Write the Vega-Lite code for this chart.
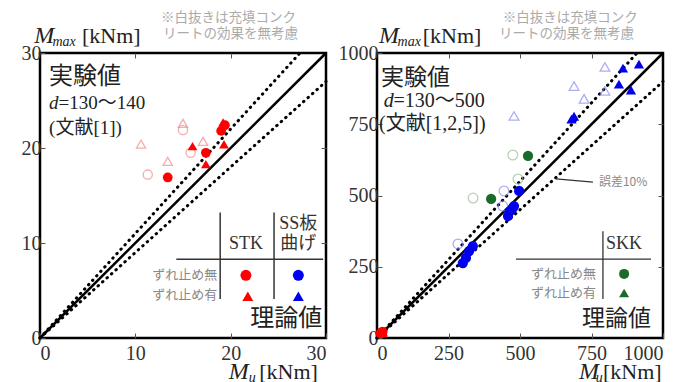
{
  "$schema": "https://vega.github.io/schema/vega-lite/v6.json",
  "background": "white",
  "padding": {"left": 19, "top": 9, "right": 0, "bottom": 0},
  "spacing": 51,
  "bounds": "flush",
  "config": {
    "view": {"stroke": "black", "strokeWidth": 2.5},
    "axis": {"labelFont": "Liberation Serif", "labelFontSize": 20, "labelColor": "#333", "domain": false, "grid": false, "tickColor": "#555", "tickWidth": 1, "title": null, "format": "d"}
  },
  "datasets": {
    "stk": [
      {"x": 13.4, "y": 16.9, "s": "STK", "r": "無", "o": 0},
      {"x": 17.4, "y": 19.5, "s": "STK", "r": "無", "o": 0},
      {"x": 19.0, "y": 21.8, "s": "STK", "r": "無", "o": 0},
      {"x": 19.4, "y": 22.4, "s": "STK", "r": "無", "o": 0},
      {"x": 16.0, "y": 20.2, "s": "STK", "r": "有", "o": 0},
      {"x": 17.4, "y": 18.3, "s": "STK", "r": "有", "o": 0},
      {"x": 19.3, "y": 20.4, "s": "STK", "r": "有", "o": 0},
      {"x": 19.2, "y": 22.7, "s": "STK", "r": "有", "o": 0},
      {"x": 10.6, "y": 20.4, "s": "STK", "r": "有", "o": 1},
      {"x": 11.3, "y": 17.2, "s": "STK", "r": "無", "o": 1},
      {"x": 13.4, "y": 18.6, "s": "STK", "r": "有", "o": 1},
      {"x": 15.0, "y": 22.6, "s": "STK", "r": "有", "o": 1},
      {"x": 15.0, "y": 21.9, "s": "STK", "r": "無", "o": 1},
      {"x": 15.8, "y": 19.5, "s": "STK", "r": "無", "o": 1},
      {"x": 17.1, "y": 20.7, "s": "STK", "r": "有", "o": 1}
    ],
    "big": [
      {"x": 300, "y": 263, "s": "SS", "r": "無", "o": 0},
      {"x": 311, "y": 281, "s": "SS", "r": "無", "o": 0},
      {"x": 322, "y": 305, "s": "SS", "r": "無", "o": 0},
      {"x": 335, "y": 322, "s": "SS", "r": "無", "o": 0},
      {"x": 458, "y": 428, "s": "SS", "r": "無", "o": 0},
      {"x": 465, "y": 445, "s": "SS", "r": "無", "o": 0},
      {"x": 475, "y": 456, "s": "SS", "r": "無", "o": 0},
      {"x": 479, "y": 463, "s": "SS", "r": "無", "o": 0},
      {"x": 497, "y": 516, "s": "SS", "r": "無", "o": 0},
      {"x": 283, "y": 330, "s": "SS", "r": "無", "o": 1},
      {"x": 444, "y": 516, "s": "SS", "r": "無", "o": 1},
      {"x": 440, "y": 463, "s": "SS", "r": "無", "o": 1},
      {"x": 680, "y": 768, "s": "SS", "r": "有", "o": 0},
      {"x": 689, "y": 778, "s": "SS", "r": "有", "o": 0},
      {"x": 846, "y": 891, "s": "SS", "r": "有", "o": 0},
      {"x": 888, "y": 870, "s": "SS", "r": "有", "o": 0},
      {"x": 860, "y": 947, "s": "SS", "r": "有", "o": 0},
      {"x": 916, "y": 961, "s": "SS", "r": "有", "o": 0},
      {"x": 479, "y": 779, "s": "SS", "r": "有", "o": 1},
      {"x": 689, "y": 884, "s": "SS", "r": "有", "o": 1},
      {"x": 724, "y": 839, "s": "SS", "r": "有", "o": 1},
      {"x": 797, "y": 867, "s": "SS", "r": "有", "o": 1},
      {"x": 797, "y": 951, "s": "SS", "r": "有", "o": 1},
      {"x": 399, "y": 488, "s": "SKK", "r": "無", "o": 0},
      {"x": 528, "y": 639, "s": "SKK", "r": "無", "o": 0},
      {"x": 336, "y": 491, "s": "SKK", "r": "無", "o": 1},
      {"x": 475, "y": 642, "s": "SKK", "r": "無", "o": 1},
      {"x": 493, "y": 558, "s": "SKK", "r": "無", "o": 1},
      {"x": 13.4, "y": 16.9, "s": "STK", "r": "無", "o": 0},
      {"x": 17.4, "y": 19.5, "s": "STK", "r": "無", "o": 0},
      {"x": 19.0, "y": 21.8, "s": "STK", "r": "無", "o": 0},
      {"x": 16.0, "y": 20.2, "s": "STK", "r": "有", "o": 0},
      {"x": 17.4, "y": 18.3, "s": "STK", "r": "有", "o": 0},
      {"x": 19.3, "y": 20.4, "s": "STK", "r": "有", "o": 0},
      {"x": 19.2, "y": 22.7, "s": "STK", "r": "有", "o": 0}
    ]
  },
  "hconcat": [
    {
      "width": 286, "height": 285,
      "encoding": {
        "x": {"field": "x", "type": "quantitative", "scale": {"domain": [0, 30], "nice": false}, "axis": null},
        "y": {"field": "y", "type": "quantitative", "scale": {"domain": [0, 30], "nice": false}, "axis": null}
      },
      "layer": [
        {
          "data": {"values": [{"x": 0, "y": 0}, {"x": 30, "y": 30}]},
          "mark": {"type": "line", "color": "black", "strokeWidth": 2.5},
          "encoding": {
            "x": {"field": "x", "type": "quantitative", "scale": {"domain": [0, 30], "nice": false}, "axis": {"orient": "bottom", "values": [0, 10, 20, 30], "tickSize": -5, "labelPadding": 10}},
            "y": {"field": "y", "type": "quantitative", "scale": {"domain": [0, 30], "nice": false}, "axis": {"orient": "left", "values": [0, 10, 20, 30], "tickSize": -5, "labelPadding": 4}}
          }
        },
        {
          "data": {"values": [{"x": 0, "y": 0, "k": "a"}, {"x": 27.27, "y": 30, "k": "a"}, {"x": 0, "y": 0, "k": "b"}, {"x": 30, "y": 27, "k": "b"}]},
          "mark": {"type": "line", "color": "black", "strokeWidth": 3, "strokeDash": [0.5, 5.5], "strokeCap": "round"},
          "encoding": {
            "detail": {"field": "k"},
            "x": {"field": "x", "type": "quantitative", "scale": {"domain": [0, 30], "nice": false}, "axis": {"orient": "top", "values": [10, 20], "labels": false, "tickSize": -5}},
            "y": {"field": "y", "type": "quantitative", "scale": {"domain": [0, 30], "nice": false}, "axis": {"orient": "right", "values": [10, 20], "labels": false, "tickSize": -5}}
          }
        },
        {
          "data": {"name": "stk"},
          "transform": [{"filter": "datum.o == 1"}],
          "mark": {"type": "point", "filled": false, "size": 85, "strokeWidth": 1.3},
          "encoding": {
            "stroke": {"field": "s", "type": "nominal", "scale": {"domain": ["STK", "SS", "SKK"], "range": ["#f08a8a", "#8c8cf0", "#9cbf9c"]}, "legend": null},
            "shape": {"field": "r", "type": "nominal", "scale": {"domain": ["無", "有"], "range": ["circle", "triangle-up"]}, "legend": null}
          }
        },
        {
          "data": {"name": "stk"},
          "transform": [{"filter": "datum.o == 0"}],
          "mark": {"type": "point", "filled": true, "size": 95, "opacity": 1},
          "encoding": {
            "color": {"field": "s", "type": "nominal", "scale": {"domain": ["STK", "SS", "SKK"], "range": ["#ff0000", "#0000ee", "#1a6b2a"]}, "legend": null},
            "shape": {"field": "r", "type": "nominal", "scale": {"domain": ["無", "有"], "range": ["circle", "triangle-up"]}, "legend": null}
          }
        },
        {
          "data": {"values": [{"x": 21.6, "y": 6.6, "s": "STK", "r": "無"}, {"x": 21.8, "y": 4.4, "s": "STK", "r": "有"}, {"x": 27.1, "y": 6.6, "s": "SS", "r": "無"}, {"x": 27.1, "y": 4.4, "s": "SS", "r": "有"}]},
          "mark": {"type": "point", "filled": true, "size": 120, "opacity": 1},
          "encoding": {
            "color": {"field": "s", "type": "nominal", "scale": {"domain": ["STK", "SS", "SKK"], "range": ["#ff0000", "#0000ee", "#1a6b2a"]}, "legend": null},
            "shape": {"field": "r", "type": "nominal", "scale": {"domain": ["無", "有"], "range": ["circle", "triangle-up"]}, "legend": null}
          }
        },
        {
          "data": {"values": [{"x": 18.9, "y": 13.2, "x2": 18.9, "y2": 4.1}, {"x": 24.55, "y": 13.2, "x2": 24.55, "y2": 4.1}, {"x": 14.3, "y": 8.3, "x2": 29.7, "y2": 8.3}]},
          "mark": {"type": "rule", "color": "#333", "strokeWidth": 1.5},
          "encoding": {"x2": {"field": "x2"}, "y2": {"field": "y2"}}
        },
        {
          "data": {"values": [{"x": 21.6, "y": 9.9, "t": "STK"}, {"x": 27.1, "y": 12.0, "t": "SS板"}, {"x": 27.1, "y": 9.9, "t": "曲げ"}]},
          "mark": {"type": "text", "font": "Liberation Serif, Noto Sans CJK JP", "fontSize": 18, "color": "#333", "align": "center", "baseline": "middle"},
          "encoding": {"text": {"field": "t"}}
        },
        {
          "data": {"values": [{"x": 18.6, "y": 6.6, "t": "ずれ止め無"}, {"x": 18.6, "y": 4.5, "t": "ずれ止め有"}]},
          "mark": {"type": "text", "font": "Noto Sans CJK JP", "fontSize": 13, "color": "#888", "align": "right", "baseline": "middle"},
          "encoding": {"text": {"field": "t"}}
        },
        {
          "data": {"values": [{"x": 29.6, "y": 2.0, "t": "理論値"}, {"x": 0.95, "y": 27.5, "t": "実験値"}]},
          "mark": {"type": "text", "font": "Noto Sans CJK JP", "fontSize": 24, "color": "#222", "align": {"expr": "datum.t == '理論値' ? 'right' : 'left'"}, "baseline": "middle"},
          "encoding": {"text": {"field": "t"}}
        },
        {
          "data": {"values": [{"x": 0.95, "y": 24.7, "t": "d"}]},
          "mark": {"type": "text", "font": "Liberation Serif", "fontStyle": "italic", "fontSize": 19, "color": "#222", "align": "left", "baseline": "middle"},
          "encoding": {"text": {"field": "t"}}
        },
        {
          "data": {"values": [{"x": 1.95, "y": 24.7, "t": "=130～140"}, {"x": 0.95, "y": 22.1, "t": "(文献[1])"}]},
          "mark": {"type": "text", "font": "Liberation Serif, Noto Sans CJK JP", "fontSize": 19, "color": "#222", "align": "left", "baseline": "middle"},
          "encoding": {"text": {"field": "t"}}
        },
        {
          "data": {"values": [{"x": 12.7, "y": 33.7, "t": "※白抜きは充填コンク"}, {"x": 12.9, "y": 32.0, "t": "リートの効果を無考慮"}]},
          "mark": {"type": "text", "font": "Noto Sans CJK JP", "fontSize": 13.5, "color": "#aaa", "align": "left", "baseline": "middle"},
          "encoding": {"text": {"field": "t"}}
        },
        {
          "data": {"values": [{"x": -0.6, "y": 31.05, "t": "M"}, {"x": 19.8, "y": -4.3, "t": "M"}]},
          "mark": {"type": "text", "font": "Liberation Serif", "fontStyle": "italic", "fontSize": 24, "color": "#222", "align": "left", "baseline": "alphabetic"},
          "encoding": {"text": {"field": "t"}}
        },
        {
          "data": {"values": [{"x": 1.3, "y": 30.7, "t": "max"}, {"x": 21.9, "y": -4.6, "t": "u"}]},
          "mark": {"type": "text", "font": "Liberation Serif", "fontStyle": "italic", "fontSize": 14, "color": "#222", "align": "left", "baseline": "alphabetic"},
          "encoding": {"text": {"field": "t"}}
        },
        {
          "data": {"values": [{"x": 4.4, "y": 31.05, "t": "[kNm]"}, {"x": 23.0, "y": -4.3, "t": "[kNm]"}]},
          "mark": {"type": "text", "font": "Liberation Serif", "fontSize": 22, "color": "#222", "align": "left", "baseline": "alphabetic"},
          "encoding": {"text": {"field": "t"}}
        }
      ],
      "resolve": {"axis": {"x": "independent", "y": "independent"}}
    },
    {
      "width": 286, "height": 285,
      "encoding": {
        "x": {"field": "x", "type": "quantitative", "scale": {"domain": [0, 1000], "nice": false}, "axis": null},
        "y": {"field": "y", "type": "quantitative", "scale": {"domain": [0, 1000], "nice": false}, "axis": null}
      },
      "layer": [
        {
          "data": {"values": [{"x": 0, "y": 0}, {"x": 1000, "y": 1000}]},
          "mark": {"type": "line", "color": "black", "strokeWidth": 2.5},
          "encoding": {
            "x": {"field": "x", "type": "quantitative", "scale": {"domain": [0, 1000], "nice": false}, "axis": {"orient": "bottom", "values": [0, 250, 500, 750, 1000], "tickSize": -5, "labelPadding": 10, "format": "d"}},
            "y": {"field": "y", "type": "quantitative", "scale": {"domain": [0, 1000], "nice": false}, "axis": {"orient": "left", "values": [0, 250, 500, 750, 1000], "tickSize": -5, "labelPadding": 4, "format": "d"}}
          }
        },
        {
          "data": {"values": [{"x": 0, "y": 0, "k": "a"}, {"x": 909.1, "y": 1000, "k": "a"}, {"x": 0, "y": 0, "k": "b"}, {"x": 1000, "y": 900, "k": "b"}]},
          "mark": {"type": "line", "color": "black", "strokeWidth": 3, "strokeDash": [0.5, 5.5], "strokeCap": "round"},
          "encoding": {
            "detail": {"field": "k"},
            "x": {"field": "x", "type": "quantitative", "scale": {"domain": [0, 1000], "nice": false}, "axis": {"orient": "top", "values": [250, 500, 750], "labels": false, "tickSize": -5}},
            "y": {"field": "y", "type": "quantitative", "scale": {"domain": [0, 1000], "nice": false}, "axis": {"orient": "right", "values": [250, 500, 750], "labels": false, "tickSize": -5}}
          }
        },
        {
          "data": {"values": [{"x": 626, "y": 558, "x2": 755, "y2": 547}, {"x": 790, "y": 375, "x2": 790, "y2": 137}, {"x": 486, "y": 277, "x2": 958, "y2": 277}]},
          "mark": {"type": "rule", "color": "#333", "strokeWidth": 1.3},
          "encoding": {"x2": {"field": "x2"}, "y2": {"field": "y2"}}
        },
        {
          "data": {"name": "big"},
          "transform": [{"filter": "datum.o == 1"}],
          "mark": {"type": "point", "filled": false, "size": 95, "strokeWidth": 1.3},
          "encoding": {
            "stroke": {"field": "s", "type": "nominal", "scale": {"domain": ["STK", "SS", "SKK"], "range": ["#f08a8a", "#8c8cf0", "#9cbf9c"]}, "legend": null},
            "shape": {"field": "r", "type": "nominal", "scale": {"domain": ["無", "有"], "range": ["circle", "triangle-up"]}, "legend": null}
          }
        },
        {
          "data": {"name": "big"},
          "transform": [{"filter": "datum.o == 0"}],
          "mark": {"type": "point", "filled": true, "size": 105, "opacity": 1},
          "encoding": {
            "color": {"field": "s", "type": "nominal", "scale": {"domain": ["STK", "SS", "SKK"], "range": ["#ff0000", "#0000ee", "#1a6b2a"]}, "legend": null},
            "shape": {"field": "r", "type": "nominal", "scale": {"domain": ["無", "有"], "range": ["circle", "triangle-up"]}, "legend": null}
          }
        },
        {
          "data": {"values": [{"x": 864, "y": 225, "s": "SKK", "r": "無"}, {"x": 864, "y": 158, "s": "SKK", "r": "有"}]},
          "mark": {"type": "point", "filled": true, "size": 100, "opacity": 1},
          "encoding": {
            "color": {"field": "s", "type": "nominal", "scale": {"domain": ["STK", "SS", "SKK"], "range": ["#ff0000", "#0000ee", "#1a6b2a"]}, "legend": null},
            "shape": {"field": "r", "type": "nominal", "scale": {"domain": ["無", "有"], "range": ["circle", "triangle-up"]}, "legend": null}
          }
        },
        {
          "data": {"values": [{"x": 864, "y": 330, "t": "SKK"}]},
          "mark": {"type": "text", "font": "Liberation Serif", "fontSize": 18, "color": "#333", "align": "center", "baseline": "middle"},
          "encoding": {"text": {"field": "t"}}
        },
        {
          "data": {"values": [{"x": 766, "y": 225, "t": "ずれ止め無"}, {"x": 766, "y": 158, "t": "ずれ止め有"}]},
          "mark": {"type": "text", "font": "Noto Sans CJK JP", "fontSize": 13, "color": "#888", "align": "right", "baseline": "middle"},
          "encoding": {"text": {"field": "t"}}
        },
        {
          "data": {"values": [{"x": 776, "y": 547, "t": "誤差10%"}]},
          "mark": {"type": "text", "font": "Noto Sans CJK JP, Liberation Serif", "fontSize": 12, "color": "#888", "align": "left", "baseline": "middle"},
          "encoding": {"text": {"field": "t"}}
        },
        {
          "data": {"values": [{"x": 958, "y": 67, "t": "理論値"}, {"x": 14, "y": 912, "t": "実験値"}]},
          "mark": {"type": "text", "font": "Noto Sans CJK JP", "fontSize": 23, "color": "#222", "align": {"expr": "datum.t == '理論値' ? 'right' : 'left'"}, "baseline": "middle"},
          "encoding": {"text": {"field": "t"}}
        },
        {
          "data": {"values": [{"x": 24, "y": 833, "t": "d"}]},
          "mark": {"type": "text", "font": "Liberation Serif", "fontStyle": "italic", "fontSize": 20, "color": "#222", "align": "left", "baseline": "middle"},
          "encoding": {"text": {"field": "t"}}
        },
        {
          "data": {"values": [{"x": 58, "y": 833, "t": "=130～500"}, {"x": 7, "y": 752, "t": "(文献[1,2,5])"}]},
          "mark": {"type": "text", "font": "Liberation Serif, Noto Sans CJK JP", "fontSize": 20, "color": "#222", "align": "left", "baseline": "middle"},
          "encoding": {"text": {"field": "t"}}
        },
        {
          "data": {"values": [{"x": 440, "y": 1123, "t": "※白抜きは充填コンク"}, {"x": 427, "y": 1067, "t": "リートの効果を無考慮"}]},
          "mark": {"type": "text", "font": "Noto Sans CJK JP", "fontSize": 13.5, "color": "#aaa", "align": "left", "baseline": "middle"},
          "encoding": {"text": {"field": "t"}}
        },
        {
          "data": {"values": [{"x": 7, "y": 1035, "t": "M"}, {"x": 706, "y": -144, "t": "M"}]},
          "mark": {"type": "text", "font": "Liberation Serif", "fontStyle": "italic", "fontSize": 24, "color": "#222", "align": "left", "baseline": "alphabetic"},
          "encoding": {"text": {"field": "t"}}
        },
        {
          "data": {"values": [{"x": 72, "y": 1025, "t": "max"}, {"x": 765, "y": -155, "t": "u"}]},
          "mark": {"type": "text", "font": "Liberation Serif", "fontStyle": "italic", "fontSize": 14, "color": "#222", "align": "left", "baseline": "alphabetic"},
          "encoding": {"text": {"field": "t"}}
        },
        {
          "data": {"values": [{"x": 160, "y": 1035, "t": "[kNm]"}, {"x": 790, "y": -144, "t": "[kNm]"}]},
          "mark": {"type": "text", "font": "Liberation Serif", "fontSize": 22, "color": "#222", "align": "left", "baseline": "alphabetic"},
          "encoding": {"text": {"field": "t"}}
        }
      ],
      "resolve": {"axis": {"x": "independent", "y": "independent"}}
    }
  ]
}
